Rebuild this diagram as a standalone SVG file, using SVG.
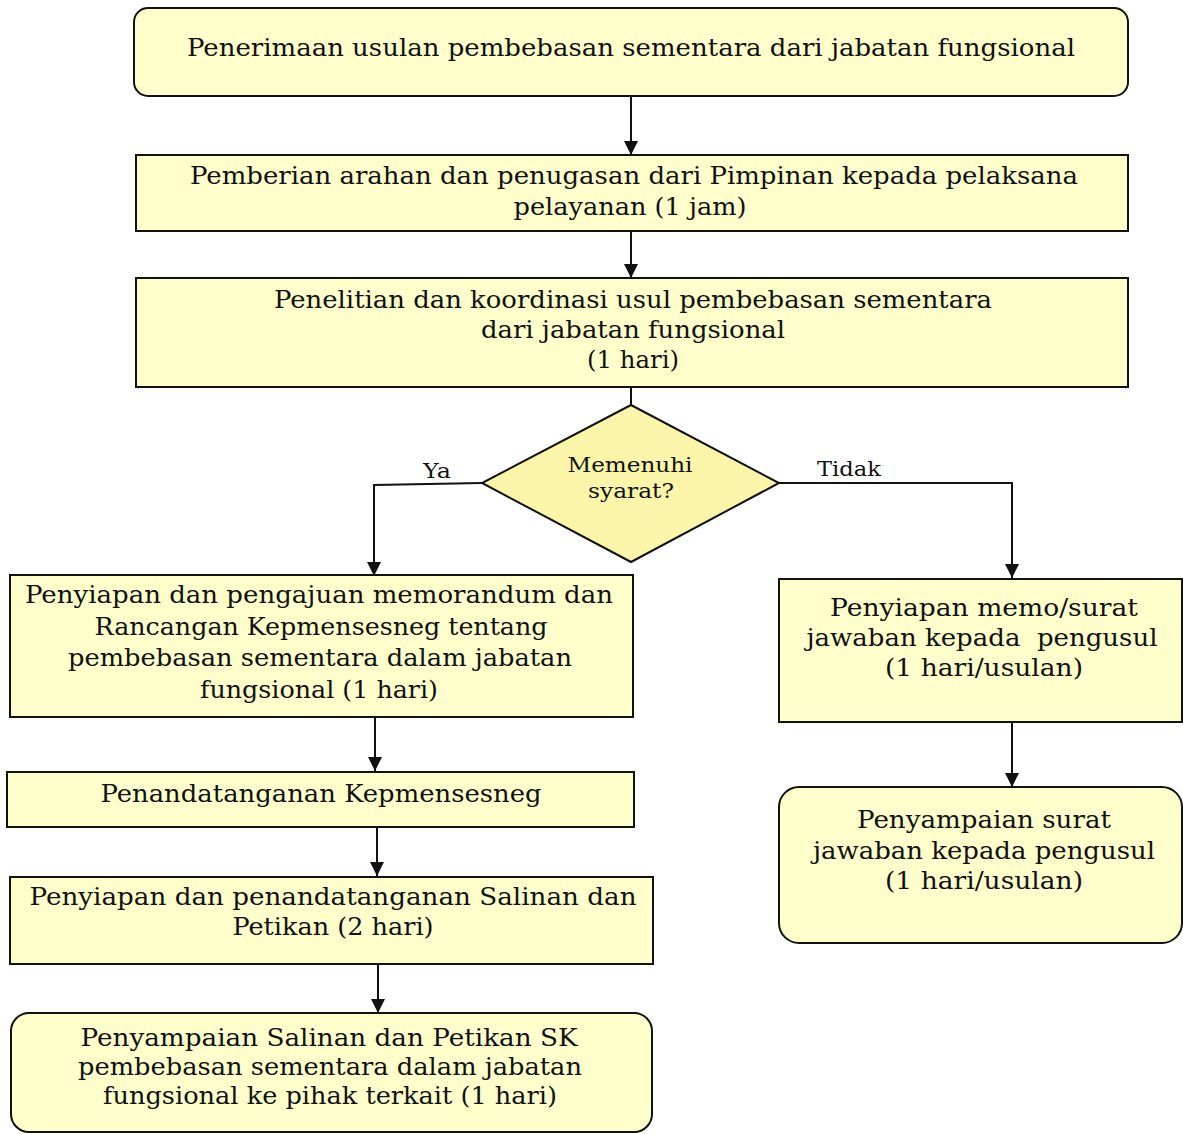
<svg xmlns="http://www.w3.org/2000/svg" width="1183" height="1134" viewBox="0 0 1183 1134">
<style>
  .box { fill: #FFFFCC; stroke: #111; stroke-width: 2; }
  .dia { fill: #FAF5A8; stroke: #111; stroke-width: 2; }
  .t { font-family: "DejaVu Serif", "Liberation Serif", serif; font-size: 24px; fill: #111; text-anchor: middle; }
  .lbl { font-family: "DejaVu Serif", "Liberation Serif", serif; font-size: 21px; fill: #111; text-anchor: middle; }
  .c { fill: none; stroke: #111; stroke-width: 2; }
</style>
<defs>
  <marker id="arr" viewBox="0 0 10 10" refX="10" refY="5" markerUnits="userSpaceOnUse" markerWidth="14" markerHeight="14" orient="auto">
    <path d="M0,0 L10,5 L0,10 z" fill="#111"/>
  </marker>
</defs>
<rect width="1183" height="1134" fill="#fff"/>

<g id="connectors">
  <path class="c" d="M631,96 V155" marker-end="url(#arr)"/>
  <path class="c" d="M631,231 V278" marker-end="url(#arr)"/>
  <path class="c" d="M631,387 V405"/>
  <path class="c" d="M482,483 L374,485 V576" marker-end="url(#arr)"/>
  <path class="c" d="M779,483 H1012 V578" marker-end="url(#arr)"/>
  <path class="c" d="M375,718 V771" marker-end="url(#arr)"/>
  <path class="c" d="M377,828 V876" marker-end="url(#arr)"/>
  <path class="c" d="M378,965 V1013" marker-end="url(#arr)"/>
  <path class="c" d="M1012,722 V787" marker-end="url(#arr)"/>
  <text class="lbl" x="437" y="478" textLength="28" lengthAdjust="spacingAndGlyphs">Ya</text>
  <text class="lbl" x="849" y="476" textLength="64" lengthAdjust="spacingAndGlyphs">Tidak</text>
</g>

<g id="n1">
  <rect class="box" x="134" y="8" width="994" height="88" rx="14"/>
  <text class="t" x="631" y="56" textLength="888" lengthAdjust="spacingAndGlyphs">Penerimaan usulan pembebasan sementara dari jabatan fungsional</text>
</g>

<g id="n2">
  <rect class="box" x="136" y="155" width="992" height="76"/>
  <text class="t" x="634" y="184" textLength="888" lengthAdjust="spacingAndGlyphs">Pemberian arahan dan penugasan dari Pimpinan kepada pelaksana</text>
  <text class="t" x="630" y="215" textLength="233" lengthAdjust="spacingAndGlyphs">pelayanan (1 jam)</text>
</g>

<g id="n3">
  <rect class="box" x="136" y="278" width="992" height="109"/>
  <text class="t" x="633" y="308" textLength="718" lengthAdjust="spacingAndGlyphs">Penelitian dan koordinasi usul pembebasan sementara</text>
  <text class="t" x="633" y="338" textLength="304" lengthAdjust="spacingAndGlyphs">dari jabatan fungsional</text>
  <text class="t" x="633" y="368" textLength="92" lengthAdjust="spacingAndGlyphs">(1 hari)</text>
</g>

<g id="decision">
  <polygon class="dia" points="631,405 779,483 631,562 482,483"/>
  <text class="lbl" x="630" y="472" textLength="125" lengthAdjust="spacingAndGlyphs">Memenuhi</text>
  <text class="lbl" x="631" y="498" textLength="86" lengthAdjust="spacingAndGlyphs">syarat?</text>
</g>

<g id="n4">
  <rect class="box" x="10" y="575" width="623" height="142"/>
  <text class="t" x="319" y="603" textLength="588" lengthAdjust="spacingAndGlyphs">Penyiapan dan pengajuan memorandum dan</text>
  <text class="t" x="321" y="635" textLength="453" lengthAdjust="spacingAndGlyphs">Rancangan Kepmensesneg tentang</text>
  <text class="t" x="320" y="666" textLength="504" lengthAdjust="spacingAndGlyphs">pembebasan sementara dalam jabatan</text>
  <text class="t" x="319" y="698" textLength="238" lengthAdjust="spacingAndGlyphs">fungsional (1 hari)</text>
</g>

<g id="n5">
  <rect class="box" x="7" y="772" width="627" height="55"/>
  <text class="t" x="321" y="802" textLength="441" lengthAdjust="spacingAndGlyphs">Penandatanganan Kepmensesneg</text>
</g>

<g id="n6">
  <rect class="box" x="10" y="877" width="643" height="87"/>
  <text class="t" x="333" y="905" textLength="607" lengthAdjust="spacingAndGlyphs">Penyiapan dan penandatanganan Salinan dan</text>
  <text class="t" x="333" y="935" textLength="201" lengthAdjust="spacingAndGlyphs">Petikan (2 hari)</text>
</g>

<g id="n7">
  <rect class="box" x="11" y="1013" width="641" height="119" rx="18"/>
  <text class="t" x="329" y="1046" textLength="497" lengthAdjust="spacingAndGlyphs">Penyampaian Salinan dan Petikan SK</text>
  <text class="t" x="330" y="1075" textLength="504" lengthAdjust="spacingAndGlyphs">pembebasan sementara dalam jabatan</text>
  <text class="t" x="330" y="1104" textLength="454" lengthAdjust="spacingAndGlyphs">fungsional ke pihak terkait (1 hari)</text>
</g>

<g id="n8">
  <rect class="box" x="779" y="579" width="403" height="143"/>
  <text class="t" x="984" y="616" textLength="308" lengthAdjust="spacingAndGlyphs">Penyiapan memo/surat</text>
  <text class="t" x="982" y="646" textLength="351" lengthAdjust="spacingAndGlyphs" xml:space="preserve">jawaban kepada  pengusul</text>
  <text class="t" x="984" y="676" textLength="198" lengthAdjust="spacingAndGlyphs">(1 hari/usulan)</text>
</g>

<g id="n9">
  <rect class="box" x="779" y="787" width="403" height="156" rx="20"/>
  <text class="t" x="984" y="828" textLength="254" lengthAdjust="spacingAndGlyphs">Penyampaian surat</text>
  <text class="t" x="984" y="859" textLength="342" lengthAdjust="spacingAndGlyphs">jawaban kepada pengusul</text>
  <text class="t" x="984" y="889" textLength="198" lengthAdjust="spacingAndGlyphs">(1 hari/usulan)</text>
</g>
</svg>
